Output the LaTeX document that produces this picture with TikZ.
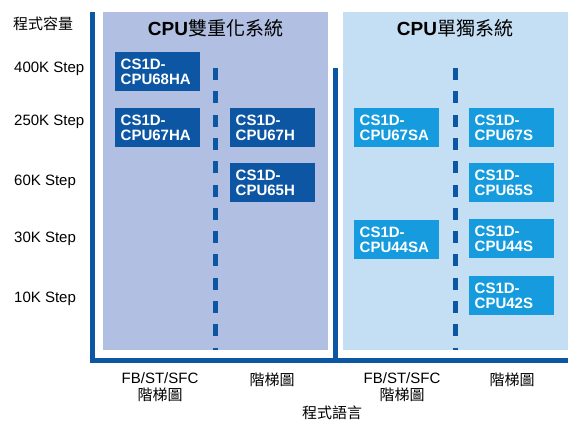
\documentclass[tikz,border=0pt]{standalone}
\usepackage{fontspec}
\setmainfont{Liberation Sans}
\newfontfamily\twfont{Noto Sans CJK TC}
\usepackage{xcolor}
\usepackage{tikz}
\usetikzlibrary{positioning}
\definecolor{darkblue}{RGB}{12,86,164}
\definecolor{skyblue}{RGB}{22,156,222}
\definecolor{panelpurple}{RGB}{176,191,226}
\definecolor{panelblue}{RGB}{196,222,243}

\begin{document}
\begin{tikzpicture}[x=1pt, y=-1pt,
  panel/.style={fill=#1, draw=none},
  model/.style={fill=#1, text=white, font=\fontsize{15}{15.5}\selectfont\bfseries,
                align=left, text width=74pt, minimum width=85pt,
                minimum height=39pt, inner sep=0pt, anchor=north west},
  model/.default=darkblue,
  rowlabel/.style={anchor=west, inner sep=0pt, font=\fontsize{15}{17}\selectfont},
  collabel/.style={align=center, font=\fontsize{15}{17}\selectfont},
  axisline/.style={line width=5pt, draw=darkblue},
  divider/.style={line width=5pt, draw=darkblue, dash pattern=on 12pt off 11.3pt},
]
\useasboundingbox (0,0) rectangle (580,429);

% Panels
\fill[panel=panelpurple] (103,12) rectangle (328,350);
\fill[panel=panelblue] (343,12) rectangle (568,350);
\node[font=\fontsize{19}{21}\selectfont] (tdual) at (215.5,28)
  {\textbf{CPU}{\twfont 雙重化系統}};
\node[font=\fontsize{19}{21}\selectfont] (tsingle) at (455,28)
  {\textbf{CPU}{\twfont 單獨系統}};

% Axes
\draw[axisline] (92.5,12) -- (92.5,360.5) -- (568,360.5);
\draw[axisline] (335.5,68) -- (335.5,358);
\draw[divider] (215,68) -- (215,350);
\draw[divider] (455,68) -- (455,350);

% Capacity labels
\node[rowlabel] (cap) at (13,24) {\twfont 程式容量};
\node[rowlabel] (r400) at (14,69) {400K Step};
\node[rowlabel] (r250) at (14,122) {250K Step};
\node[rowlabel] (r60) at (14,182) {60K Step};
\node[rowlabel] (r30) at (14,239) {30K Step};
\node[rowlabel] (r10) at (14,299) {10K Step};

% Duplex CPUs
\node[model] (c68ha) at (115,52) {CS1D-\\CPU68HA};
\node[model] (c67ha) at (115,108) {CS1D-\\CPU67HA};
\node[model] (c67h) at (230,108) {CS1D-\\CPU67H};
\node[model] (c65h) at (230,163) {CS1D-\\CPU65H};

% Simplex CPUs
\node[model=skyblue] (c67sa) at (354,108) {CS1D-\\CPU67SA};
\node[model=skyblue] (c67s) at (469,108) {CS1D-\\CPU67S};
\node[model=skyblue] (c65s) at (469,163) {CS1D-\\CPU65S};
\node[model=skyblue] (c44sa) at (354,220) {CS1D-\\CPU44SA};
\node[model=skyblue] (c44s) at (469,219) {CS1D-\\CPU44S};
\node[model=skyblue] (c42s) at (469,276) {CS1D-\\CPU42S};

% Language labels
\node[collabel, anchor=north] (lfb1) at (160,369) {FB/ST/SFC\\{\twfont 階梯圖}};
\node[collabel, anchor=north] (llad1) at (272,369) {\twfont 階梯圖};
\node[collabel, anchor=north] (lfb2) at (402,369) {FB/ST/SFC\\{\twfont 階梯圖}};
\node[collabel, anchor=north] (llad2) at (512,369) {\twfont 階梯圖};
\node[collabel] (lang) at (332,413) {\twfont 程式語言};
\end{tikzpicture}
\end{document}
